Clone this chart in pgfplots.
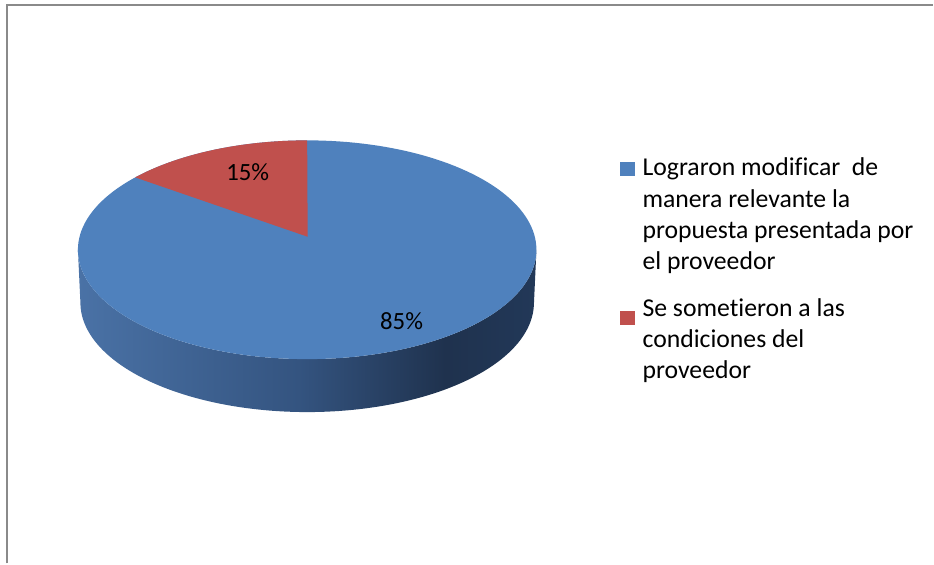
\documentclass[border=0pt]{standalone}
\usepackage{pgfplots}
\pgfplotsset{compat=1.18}
\usepackage{pgfplotstable}
\usepackage{fontspec}
\setmainfont{Carlito}[Ligatures=NoCommon]
\definecolor{pieblue}{RGB}{79,129,189}
\definecolor{piered}{RGB}{192,80,77}
\definecolor{w1}{RGB}{74,114,166}
\definecolor{w2}{RGB}{52,84,128}
\definecolor{w3}{RGB}{31,50,78}
\definecolor{w4}{RGB}{34,56,88}
\definecolor{borderc}{RGB}{138,138,138}
\pgfdeclarehorizontalshading{wall}{100bp}{color(0bp)=(w1); color(25bp)=(w1); color(49bp)=(w2); color(65bp)=(w3); color(75bp)=(w4); color(100bp)=(w4)}

\pgfplotstableread{
value
85
15
}\piedata
\pgfplotstablegetelem{0}{value}\of\piedata \let\blueval\pgfplotsretval
\pgfplotstablegetelem{1}{value}\of\piedata \let\redval\pgfplotsretval
% red slice starts at 12 o'clock; 0.9 = perspective foreshortening of the tilted disc
\pgfmathsetmacro\redend{90+3.6*\redval*0.9}

\begin{document}
\begin{tikzpicture}
\begin{axis}[scale only axis, width=700.5pt, height=423pt,
  xmin=0, xmax=934, ymin=0, ymax=564, y dir=reverse,
  hide axis, clip=false, no markers]
% keep the full canvas in the bounding box
\addplot[draw=none] coordinates {(0,0) (934,564)};
% side wall of the disc
\addplot[draw=none, shading=wall, domain=180:540, samples=361, variable=\t]
 ({(\t<=360)*(307.5+229.5*cos(\t)) + (\t>360)*(307.5+227*cos(720-\t))},
  {(\t<=360)*(250-109.5*sin(\t)) + (\t>360)*(303-109.5*sin(720-\t))}) -- cycle;
% top face (blue slice)
\addplot[draw=none, fill=pieblue, domain=0:360, samples=181, variable=\t]
 ({307.5+229.5*cos(\t)},{250-109.5*sin(\t)}) -- cycle;
% red slice
\addplot[draw=none, fill=piered, domain=90:\redend, samples=60, variable=\t]
 ({307.5+229.5*cos(\t)},{250-109.5*sin(\t)}) -- (axis cs:308,237) -- cycle;
% frame
\addplot[draw=borderc, line width=1.5pt] coordinates {(7,564) (7,5) (934,5)};
% data labels
\node[anchor=base, font=\fontsize{18.6}{22}\selectfont] at (axis cs:248,180.5) {\redval\%};
\node[anchor=base, font=\fontsize{18.6}{22}\selectfont] at (axis cs:402,330) {\blueval\%};
% legend
\addplot[draw=none, fill=pieblue] coordinates {(621,162) (636,162) (636,176) (621,176)} -- cycle;
\addplot[draw=none, fill=piered] coordinates {(621,311) (636,311) (636,325) (621,325)} -- cycle;
\begin{scope}[every node/.style={anchor=base west, inner sep=0pt, font=\fontsize{19.3}{22}\selectfont}]
\node at (axis cs:643,176) {Lograron modificar\ \ de};
\node at (axis cs:643,207.3) {manera relevante la};
\node at (axis cs:643,238.6) {propuesta presentada por};
\node at (axis cs:643,269.9) {el proveedor};
\node at (axis cs:643,316.5) {Se sometieron a las};
\node at (axis cs:643,347.8) {condiciones del};
\node at (axis cs:643,379.1) {proveedor};
\end{scope}
\end{axis}
\end{tikzpicture}
\end{document}
